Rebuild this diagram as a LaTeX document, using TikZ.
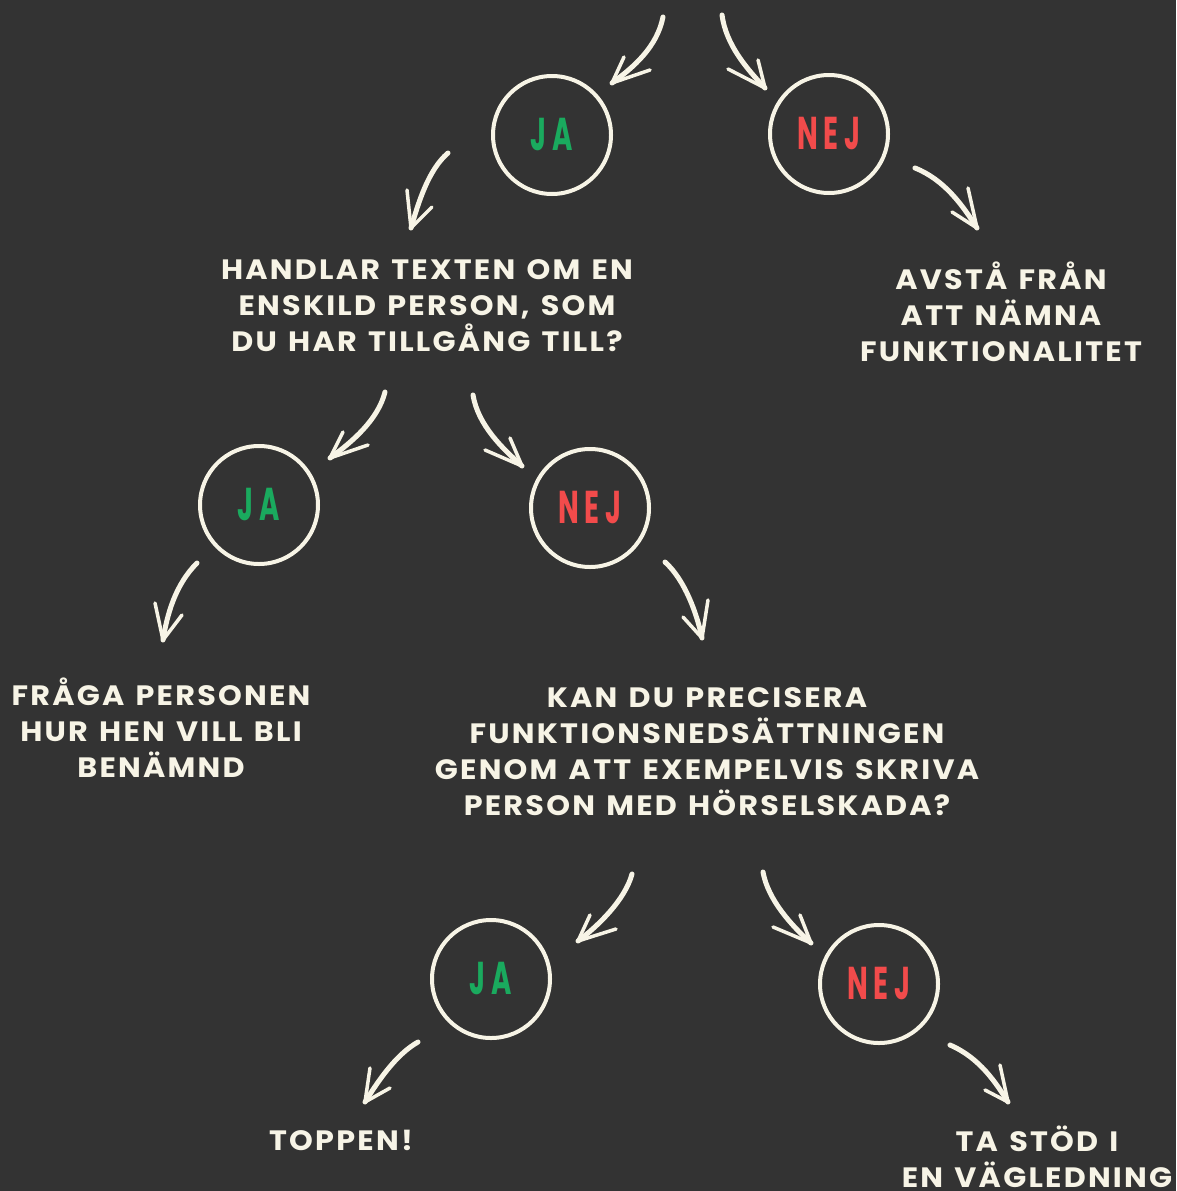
\documentclass[tikz,border=0pt]{standalone}
\usepackage{fontspec}
\setmainfont{Poppins}
\newfontfamily\txtfont{Poppins}[LetterSpace=8,FakeStretch=1.08,WordSpace=1.3]
\newfontfamily\circfont{Poppins}[LetterSpace=22]
\definecolor{bg}{HTML}{333333}
\definecolor{cream}{HTML}{F7F4E6}
\definecolor{jagreen}{HTML}{1AAA5E}
\definecolor{nejred}{HTML}{F24B4B}
\newcommand\chalkarrow[7]{%
  \coordinate (#1s) at (#2);
  \coordinate (#1t) at (#5);
  \draw[chalkbody] (#1s) .. controls (#3) and (#4) .. (#1t);
  \draw[chalkbarb] (#1t) -- (#6);
  \draw[chalkbarb] (#1t) -- (#7);
}
\begin{document}
\begin{tikzpicture}[x=1pt,y=-1pt,
  chalkbody/.style={draw=cream,line width=5pt,line cap=round},
  chalkbarb/.style={draw=cream,line width=3.5pt,line cap=round},
  ring/.style={circle,draw=cream,line width=4pt,minimum size=118pt,inner sep=0pt},
  jatext/.style={ring,text=jagreen,font=\circfont\bfseries\fontsize{46}{46}\selectfont},
  nejtext/.style={ring,text=nejred,font=\circfont\bfseries\fontsize{46}{46}\selectfont},
  label/.style={text=cream,align=center,inner sep=0pt,font=\txtfont\bfseries\fontsize{28}{36}\selectfont}
]
\fill[bg] (0,0) rectangle (1176,1191);
\useasboundingbox (0,0) rectangle (1176,1191);

\node[jatext] (ja1) at (552,135) {\scalebox{0.6}[1]{JA}};
\node[nejtext] (nej1) at (829,134) {\scalebox{0.6}[1]{NEJ}};
\node[jatext] (ja2) at (259,505) {\scalebox{0.6}[1]{JA}};
\node[nejtext] (nej2) at (590,508) {\scalebox{0.6}[1]{NEJ}};
\node[jatext] (ja3) at (491,979) {\scalebox{0.6}[1]{JA}};
\node[nejtext] (nej3) at (879,984) {\scalebox{0.6}[1]{NEJ}};

\node[label] (q1) at (427,306) {HANDLAR TEXTEN OM EN\\ENSKILD PERSON, SOM\\DU HAR TILLGÅNG TILL?};
\node[label] (avsta) at (1001,312) {AVSTÅ FRÅN\\ATT NÄMNA\\FUNKTIONALITET};
\node[label] (fraga) at (161,728) {FRÅGA PERSONEN\\HUR HEN VILL BLI\\BENÄMND};
\node[label] (q2) at (707,752) {KAN DU PRECISERA\\FUNKTIONSNEDSÄTTNINGEN\\GENOM ATT EXEMPELVIS SKRIVA\\PERSON MED HÖRSELSKADA?};
\node[label] (toppen) at (341,1140) {TOPPEN!};
\node[label] (tastod) at (1037,1157) {TA STÖD I\\EN VÄGLEDNING};

\chalkarrow{a1}{663,17}{657,47}{634,67}{612,83}{624,57}{650,70}
\chalkarrow{a2}{722,15}{726,45}{747,69}{765,88}{758,60}{728,69}
\chalkarrow{a3}{448,153}{428,170}{418,204}{411,228}{407,190}{432,207}
\chalkarrow{a4}{915,168}{945,180}{963,206}{977,228}{968,188}{952,212}
\chalkarrow{a5}{385,392}{378,420}{352,442}{330,458}{343,432}{368,445}
\chalkarrow{a6}{473,395}{478,425}{502,448}{522,466}{510,438}{485,450}
\chalkarrow{a7}{197,563}{175,585}{167,615}{163,640}{155,603}{182,615}
\chalkarrow{a8}{665,562}{685,580}{697,614}{702,638}{708,600}{683,617}
\chalkarrow{a9}{632,874}{625,900}{598,926}{578,941}{590,915}{616,929}
\chalkarrow{a10}{763,872}{768,900}{792,926}{811,943}{800,915}{773,927}
\chalkarrow{a11}{418,1042}{395,1055}{377,1083}{365,1102}{370,1068}{390,1088}
\chalkarrow{a12}{950,1045}{980,1058}{996,1083}{1008,1102}{1000,1065}{985,1090}
\end{tikzpicture}
\end{document}
